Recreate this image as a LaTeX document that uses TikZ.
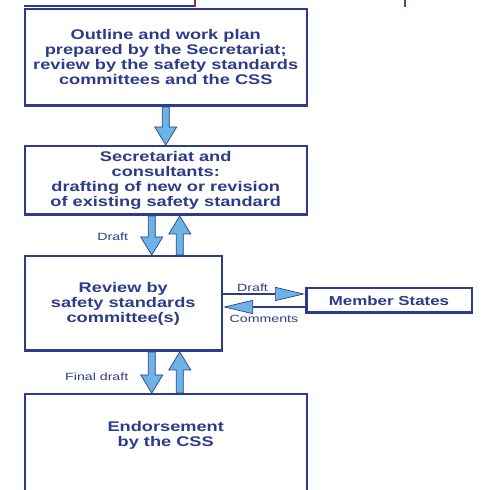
\documentclass[tikz,border=0pt]{standalone}
\usepackage{fontspec}
\setmainfont{Liberation Sans}
\newfontfamily\boxfont{Liberation Sans}[FakeStretch=1.3]
\newfontfamily\lblfont{Liberation Sans}[FakeStretch=1.35]
\usetikzlibrary{arrows.meta,calc,positioning}
\definecolor{navy}{HTML}{2C3C8A}
\definecolor{arrowblue}{HTML}{6CB4E6}
\definecolor{plum}{HTML}{7A3466}
\tikzset{x=1pt,y=1pt}

\begin{document}
\begin{tikzpicture}[
    box/.style={draw=navy,line width=2.5pt,fill=white,text=navy,align=center,inner sep=0pt,
        font=\boxfont\bfseries\fontsize{14}{15}\selectfont},
    lbl/.style={text=navy,font=\lblfont\fontsize{10.5}{12}\selectfont,inner sep=1pt},
    fatarrow/.style={draw=navy,line width=0.7pt,fill=arrowblue,
        to path={let \p1=(\tikztostart),\p2=(\tikztotarget),\n1={ifthenelse(\y2>\y1,1,-1)} in
            (\x1-3.5pt,\y1) -- (\x1-3.5pt,\y2-\n1*18pt) -- (\x1-11pt,\y2-\n1*18pt) -- (\x2,\y2)
            -- (\x1+11pt,\y2-\n1*18pt) -- (\x1+3.5pt,\y2-\n1*18pt) -- (\x1+3.5pt,\y1) -- cycle}},
    thinarrow/.style={draw=navy,line width=1.5pt,
        -{Triangle[length=30pt,width=14pt,fill=arrowblue,line width=0.7pt]}}]
    \useasboundingbox (0,0) rectangle (480,490);
    \clip (0,0) rectangle (480,490);
    % cut-off bits at the top
    \draw[navy,line width=1.5pt] (24,484) -- (195,484);
    \draw[plum,line width=1.5pt] (195,490) -- (195,483) (405,490) -- (405,483);
    % boxes
    \node[box,minimum width=282,minimum height=96.5] (b1) at (165.75,432.5)
        {Outline and work plan\\prepared by the Secretariat;\\review by the safety standards\\committees and the CSS};
    \node[box,minimum width=282,minimum height=68.5] (b2) at (165.75,309.5)
        {Secretariat and\\consultants:\\drafting of new or revision\\of existing safety standard};
    \node[box,minimum width=197,minimum height=94.5] (b3) at (123.25,186.5)
        {Review by\\safety standards\\committee(s)};
    \node[box,minimum width=165.5,minimum height=24.5,font=\boxfont\bfseries\fontsize{13}{15}\selectfont] (ms) at (389,189.5)
        {Member States};
    \node[box,minimum width=282,minimum height=104.5] (b4) at (165.75,43.5) {};
    \node[box,draw=none,fill=none] (b4t) at ([yshift=-42pt]b4.north) {Endorsement\\by the CSS};
    % connectors
    \draw[fatarrow] (b1.south) to (b2.north);
    \draw[fatarrow] ([xshift=-14pt]b2.south) to ([xshift=-14pt]b2.south |- b3.north);
    \draw[fatarrow] ([xshift=14pt]b2.south |- b3.north) to ([xshift=14pt]b2.south);
    \draw[fatarrow] ([xshift=-14pt]b4.north |- b3.south) to ([xshift=-14pt]b4.north);
    \draw[fatarrow] ([xshift=14pt]b4.north) to ([xshift=14pt]b4.north |- b3.south);
    \draw[thinarrow] ([yshift=6.5pt]ms.west -| b3.east) -- node[lbl,above=1pt,pos=0.36] (dr2) {Draft} ([yshift=6.5pt]ms.west);
    \draw[thinarrow] ([yshift=-6.5pt]ms.west) -- node[lbl,below=6pt,pos=0.5] (cm) {Comments} ([yshift=-6.5pt]ms.west -| b3.east);
    \node[lbl] (dr1) at ([xshift=-53pt,yshift=-21pt]b2.south) {Draft};
    \node[lbl] (fd) at ([xshift=-69pt,yshift=16pt]b4.north) {Final draft};
\end{tikzpicture}
\end{document}
